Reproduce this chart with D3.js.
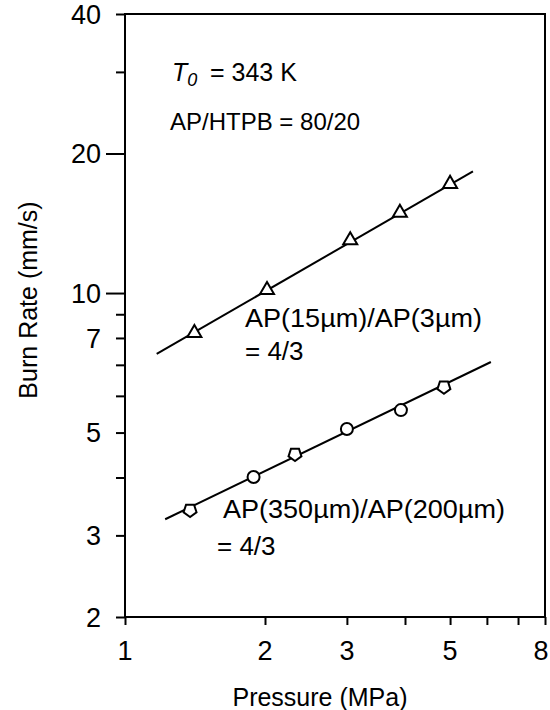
<!DOCTYPE html>
<html><head><meta charset="utf-8">
<script src="https://cdn.jsdelivr.net/npm/d3@7"></script>
<style>body{margin:0;background:#fff}svg{display:block}text{font-family:"Liberation Sans",Arial,sans-serif;fill:#000}</style>
</head><body>
<script>
// ---- data ----
const triP = [1.41, 2.02, 3.05, 3.90, 5.00];
const triR = [8.2, 10.15, 13.0, 14.9, 17.2];
const circP = [1.89, 3.00, 3.92];
const circR = [4.01, 5.09, 5.59];
const pentP = [1.38, 2.32, 4.85];
const pentR = [3.40, 4.49, 6.27];
const fitUpperP = [1.17, 5.6];
const fitUpperR = [7.39, 18.3];
const fitLowerP = [1.22, 6.12];
const fitLowerR = [3.25, 7.10];
const xTicks = [1, 2, 3, 4, 5, 6, 7, 8];
const xLabels = [1, 2, 3, 5, 8];
const yTicks = [40, 30, 20, 10, 9, 8, 7, 6, 5, 4, 3, 2];
const yLongTicks = [20, 10];
const yLabelAt = [40, 20, 10, 8, 5, 3, 2];
const yLabelText = ["40", "20", "10", "7", "5", "3", "2"];

const W = 550, H = 710;
const L = 125, R = 545, T = 14, B = 617;
const svg = d3.select("body").append("svg").attr("width", W).attr("height", H);
const x = d3.scaleLog().domain([1, 8]).range([L, R]);
const y = d3.scaleLog().domain([2, 40]).range([B, T]);

// frame
svg.append("rect").attr("x", L).attr("y", T).attr("width", R - L).attr("height", B - T)
  .attr("fill", "none").attr("stroke", "#000").attr("stroke-width", 2);

// x axis ticks
const gx = svg.append("g").attr("transform", `translate(0,${B})`)
  .call(d3.axisBottom(x).tickValues(xTicks).tickSize(8).tickFormat(""));
gx.select(".domain").remove();
gx.selectAll(".tick line").attr("stroke-width", 2);
svg.selectAll(".xl").data(xLabels).enter().append("text")
  .attr("x", d => Math.min(x(d), W - 9)).attr("y", 660).attr("text-anchor", "middle")
  .attr("font-size", 27).text(d => d);

// y axis ticks
const gy = svg.append("g").attr("transform", `translate(${L},0)`)
  .call(d3.axisLeft(y).tickValues(yTicks).tickSize(9).tickFormat(""));
gy.select(".domain").remove();
gy.selectAll(".tick line").attr("stroke-width", 2)
  .attr("x2", d => yLongTicks.includes(d) ? -19 : -9);
svg.selectAll(".yl").data(yLabelAt).enter().append("text")
  .attr("x", 101).attr("y", d => y(d)).attr("dy", "0.36em").attr("text-anchor", "end")
  .attr("font-size", 27).text((d, i) => yLabelText[i]);

// axis titles
svg.append("text").attr("x", 320).attr("y", 706).attr("text-anchor", "middle")
  .attr("font-size", 25).text("Pressure (MPa)");
svg.append("text").attr("transform", "translate(37,300) rotate(-90)").attr("text-anchor", "middle")
  .attr("font-size", 25).text("Burn Rate (mm/s)");

// fit lines
const line = d3.line().x(d => x(d[0])).y(d => y(d[1]));
svg.append("path").attr("d", line(d3.zip(fitUpperP, fitUpperR)))
  .attr("fill", "none").attr("stroke", "#000").attr("stroke-width", 2);
svg.append("path").attr("d", line(d3.zip(fitLowerP, fitLowerR)))
  .attr("fill", "none").attr("stroke", "#000").attr("stroke-width", 2);

// markers
svg.selectAll(".tri").data(d3.zip(triP, triR)).enter().append("path")
  .attr("transform", d => `translate(${x(d[0])},${y(d[1])})`)
  .attr("d", d3.symbol(d3.symbolTriangle, 85)())
  .attr("fill", "#fff").attr("stroke", "#000").attr("stroke-width", 2);
svg.selectAll(".circ").data(d3.zip(circP, circR)).enter().append("circle")
  .attr("cx", d => x(d[0])).attr("cy", d => y(d[1])).attr("r", 6)
  .attr("fill", "#fff").attr("stroke", "#000").attr("stroke-width", 2);
const pentagon = d3.line()(d3.range(5).map(i => {
  const a = Math.PI / 2 + i * 2 * Math.PI / 5;
  return [6.8 * Math.cos(a), 6.8 * Math.sin(a)];
})) + "Z";
svg.selectAll(".pent").data(d3.zip(pentP, pentR)).enter().append("path")
  .attr("transform", d => `translate(${x(d[0])},${y(d[1])})`)
  .attr("d", pentagon)
  .attr("fill", "#fff").attr("stroke", "#000").attr("stroke-width", 2);

// annotations
const t0 = svg.append("text").attr("x", 172).attr("y", 81).attr("font-size", 25);
t0.append("tspan").attr("font-style", "italic").text("T");
t0.append("tspan").attr("font-style", "italic").attr("font-size", 18).attr("dy", 5).text("0");
svg.append("text").attr("x", 210).attr("y", 81).attr("font-size", 25).text("= 343 K");
svg.append("text").attr("x", 170).attr("y", 130).attr("font-size", 24).text("AP/HTPB = 80/20");
svg.append("text").attr("x", 245).attr("y", 327).attr("font-size", 26)
  .attr("textLength", 237).attr("lengthAdjust", "spacingAndGlyphs").text("AP(15µm)/AP(3µm)");
svg.append("text").attr("x", 245).attr("y", 360).attr("font-size", 26).text("= 4/3");
svg.append("text").attr("x", 223).attr("y", 518).attr("font-size", 26)
  .attr("textLength", 282).attr("lengthAdjust", "spacingAndGlyphs").text("AP(350µm)/AP(200µm)");
svg.append("text").attr("x", 217).attr("y", 555).attr("font-size", 26).text("= 4/3");
</script>
</body></html>
